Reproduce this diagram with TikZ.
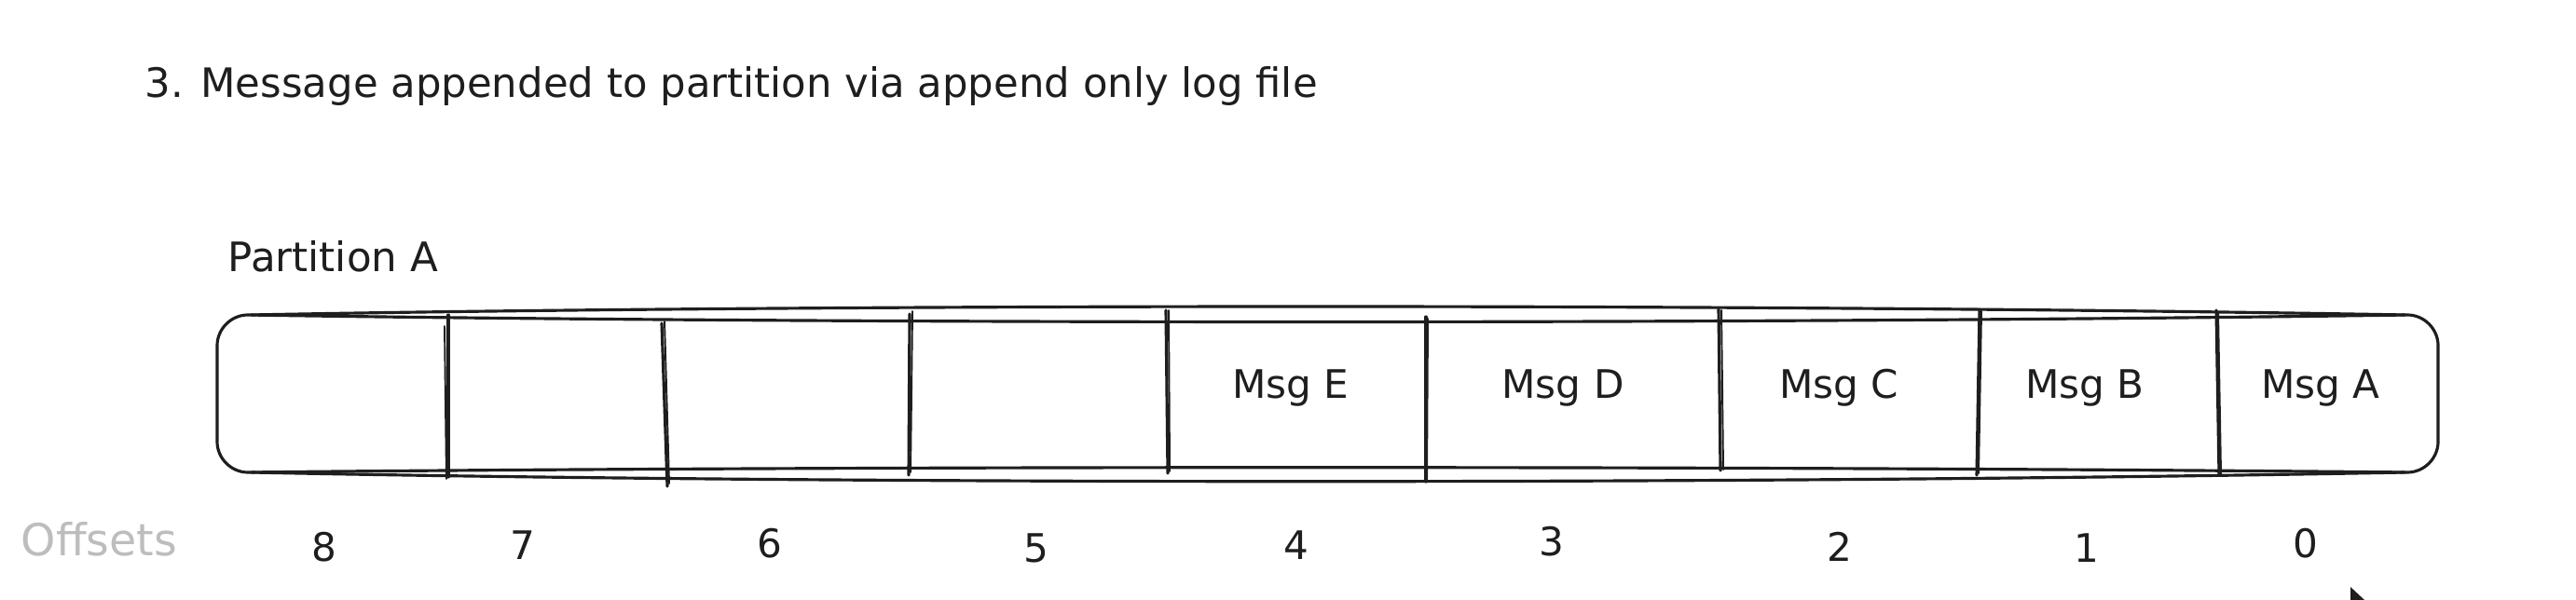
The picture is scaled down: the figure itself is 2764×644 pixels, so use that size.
\documentclass[tikz,border=0pt]{standalone}
\usepackage{fontspec}
\setmainfont{DejaVu Sans}
\definecolor{ink}{HTML}{1E1E1E}
\definecolor{faint}{HTML}{BDBDBD}
\begin{document}
\begin{tikzpicture}[x=0.1mm,y=-0.1mm,
  sk/.style={draw=ink,line width=0.9pt,line cap=round,line join=round},
  skthin/.style={draw=ink,line width=0.55pt,line cap=round},
  titletext/.style={font=\fontsize{12.35}{15}\selectfont,text=ink,inner sep=0pt},
  parttext/.style={font=\fontsize{12.4}{14}\selectfont,text=ink,inner sep=0pt},
  msgtext/.style={font=\fontsize{12}{14}\selectfont,text=ink,inner sep=0pt},
  numtext/.style={font=\fontsize{12}{14}\selectfont,text=ink,inner sep=0pt},
  offtext/.style={font=\fontsize{13.5}{16}\selectfont,text=faint,inner sep=0pt}]
\useasboundingbox[fill=white] (0,0) rectangle (2764,644);

% title and partition label
\node[titletext,anchor=base west] (title) at (155,105) {3. Message appended to partition via append only log file};
\node[parttext,anchor=base west] (part) at (244,292) {Partition A};

% partition box: inner stroke
\path[sk] (266,338) .. controls (900,348) and (1900,348) .. (2583,338)
  .. controls (2601,338) and (2616,353) .. (2616,371)
  -- (2616,474)
  .. controls (2616,492) and (2601,507) .. (2583,507)
  .. controls (1900,500) and (900,500) .. (266,507)
  .. controls (248,507) and (233,492) .. (233,474)
  -- (233,371)
  .. controls (233,353) and (248,338) .. (266,338) -- cycle;
% partition box: outer sketch strokes
\path[sk] (270,338) .. controls (900,326) and (1900,326) .. (2580,338);
\path[sk] (270,507) .. controls (900,520) and (1900,520) .. (2580,507);

% cell dividers (double sketch strokes)
\coordinate (d1t) at (481,338); \coordinate (d1b) at (481,512);
\coordinate (d1u) at (477,350); \coordinate (d1v) at (479,514);
\coordinate (d2t) at (710,347); \coordinate (d2b) at (716,522);
\coordinate (d2u) at (713,345); \coordinate (d2v) at (718,519);
\coordinate (d3t) at (976,337); \coordinate (d3b) at (975,510);
\coordinate (d3u) at (979,334); \coordinate (d3v) at (977,507);
\coordinate (d4t) at (1251,333); \coordinate (d4b) at (1253,508);
\coordinate (d4u) at (1254,333); \coordinate (d4v) at (1255,506);
\coordinate (d5t) at (1530,340); \coordinate (d5b) at (1530,517);
\coordinate (d5u) at (1532,342); \coordinate (d5v) at (1531,515);
\coordinate (d6t) at (1844,332); \coordinate (d6b) at (1846,505);
\coordinate (d6u) at (1847,333); \coordinate (d6v) at (1849,504);
\coordinate (d7t) at (2124,332); \coordinate (d7b) at (2121,510);
\coordinate (d7u) at (2126,334); \coordinate (d7v) at (2123,508);
\coordinate (d8t) at (2378,333); \coordinate (d8b) at (2381,510);
\coordinate (d8u) at (2380,335); \coordinate (d8v) at (2383,509);
\foreach \i in {1,...,8}{
  \draw[sk] (d\i t) -- (d\i b);
  \draw[skthin] (d\i u) -- (d\i v);
}

% message labels
\node[msgtext,anchor=base] (mE) at (1385,428) {Msg E};
\node[msgtext,anchor=base] (mD) at (1677,428) {Msg D};
\node[msgtext,anchor=base] (mC) at (1973,428) {Msg C};
\node[msgtext,anchor=base] (mB) at (2237,428) {Msg B};
\node[msgtext,anchor=base] (mA) at (2490,428) {Msg A};

% offsets
\node[offtext,anchor=base west] (offs) at (22,597) {Offsets};
\node[numtext,anchor=base] (o8) at (348,602) {8};
\node[numtext,anchor=base] (o7) at (561,600) {7};
\node[numtext,anchor=base] (o6) at (826,598) {6};
\node[numtext,anchor=base] (o5) at (1112,603) {5};
\node[numtext,anchor=base] (o4) at (1391,600) {4};
\node[numtext,anchor=base] (o3) at (1665,597) {3};
\node[numtext,anchor=base] (o2) at (1974,602) {2};
\node[numtext,anchor=base] (o1) at (2239,603) {1};
\node[numtext,anchor=base] (o0) at (2474,598) {0};

% mouse pointer tip at the bottom edge
\fill[ink] (2522,630) -- (2522,644) -- (2537,644) -- cycle;
\end{tikzpicture}
\end{document}
